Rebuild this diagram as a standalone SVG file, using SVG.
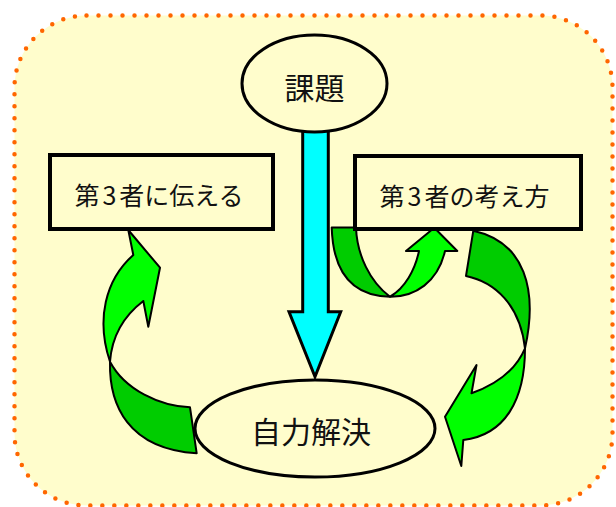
<svg xmlns="http://www.w3.org/2000/svg" width="616" height="507" viewBox="0 0 616 507">
<style>
.lbl{font-family:"Noto Sans CJK JP","Noto Sans CJK SC",sans-serif;fill:#111;text-anchor:middle}
.box{fill:#FFFDCC;stroke:#000;stroke-width:4}
.ell{fill:#FFFDCC;stroke:#000;stroke-width:3}
.dk{fill:#00CC00;stroke:#000;stroke-width:2;stroke-linejoin:round}
.br{fill:#00FF00;stroke:#000;stroke-width:2;stroke-linejoin:round}
</style>
<rect x="14.5" y="15.5" width="598" height="490" rx="72" ry="72" fill="#FFFDCC" stroke="#FF6600" stroke-width="4.5" stroke-dasharray="0 12" stroke-linecap="round"/>
<g id="connectors">
  <path id="arrow-main" d="M302.7,130 L328.3,130 L328.3,311.7 L340.7,311.7 L315,376.7 L289,311.7 L302.7,311.7 Z" fill="#00FFFF" stroke="#000" stroke-width="3" stroke-linejoin="miter"/>
  <g id="arrow-left">
    <path class="dk" d="M110,361.7 C109,405 128,449 196.7,453.3 L190,407.3 C160,406 125,390 110,361.7 Z"/>
    <path class="br" d="M128.3,230 L160,267.7 L148.3,326.7 L143.3,301 C125,315 112,335 110,361.7 C96,320 105,280 133.3,255 Z"/>
  </g>
  <g id="arrow-mid">
    <path class="dk" d="M331.7,227.5 L356,227.5 C357,255 370,282 390,296.7 C350,296 333,270 331.7,227.5 Z"/>
    <path class="br" d="M390,296.7 C415,297 438,282 445,251 L457.3,251 L434.3,227.7 L406,251 L419,251 C415,270 405,288 390,296.7 Z"/>
  </g>
  <g id="arrow-right">
    <path class="dk" d="M473.3,230.7 C525,242 538,290 525,348.3 C520,305 495,282 466,276 Z"/>
    <path class="br" d="M525,348.3 C525,400 505,435 463.3,440 L461.3,466 L445,416.7 L476.5,365 L471.5,393.3 C495,385 515,372 525,348.3 Z"/>
  </g>
</g>
<g id="node-kadai">
  <ellipse class="ell" cx="314.5" cy="83.5" rx="72.5" ry="48.5"/>
  <text class="lbl" x="314.5" y="99" font-size="30">課題</text>
</g>
<g id="node-tsutaeru">
  <rect class="box" x="50" y="155" width="223" height="74"/>
  <text class="lbl" x="159" y="205" font-size="25">第<tspan dx="3">3</tspan><tspan dx="3">者に伝える</tspan></text>
</g>
<g id="node-kangaekata">
  <rect class="box" x="355" y="156" width="226" height="73"/>
  <text class="lbl" x="464.5" y="206" font-size="25">第<tspan dx="3">3</tspan><tspan dx="3">者の考え方</tspan></text>
</g>
<g id="node-jiriki">
  <ellipse class="ell" cx="315" cy="428.5" rx="120" ry="48.5"/>
  <text class="lbl" x="311" y="443" font-size="30">自力解決</text>
</g>
</svg>
